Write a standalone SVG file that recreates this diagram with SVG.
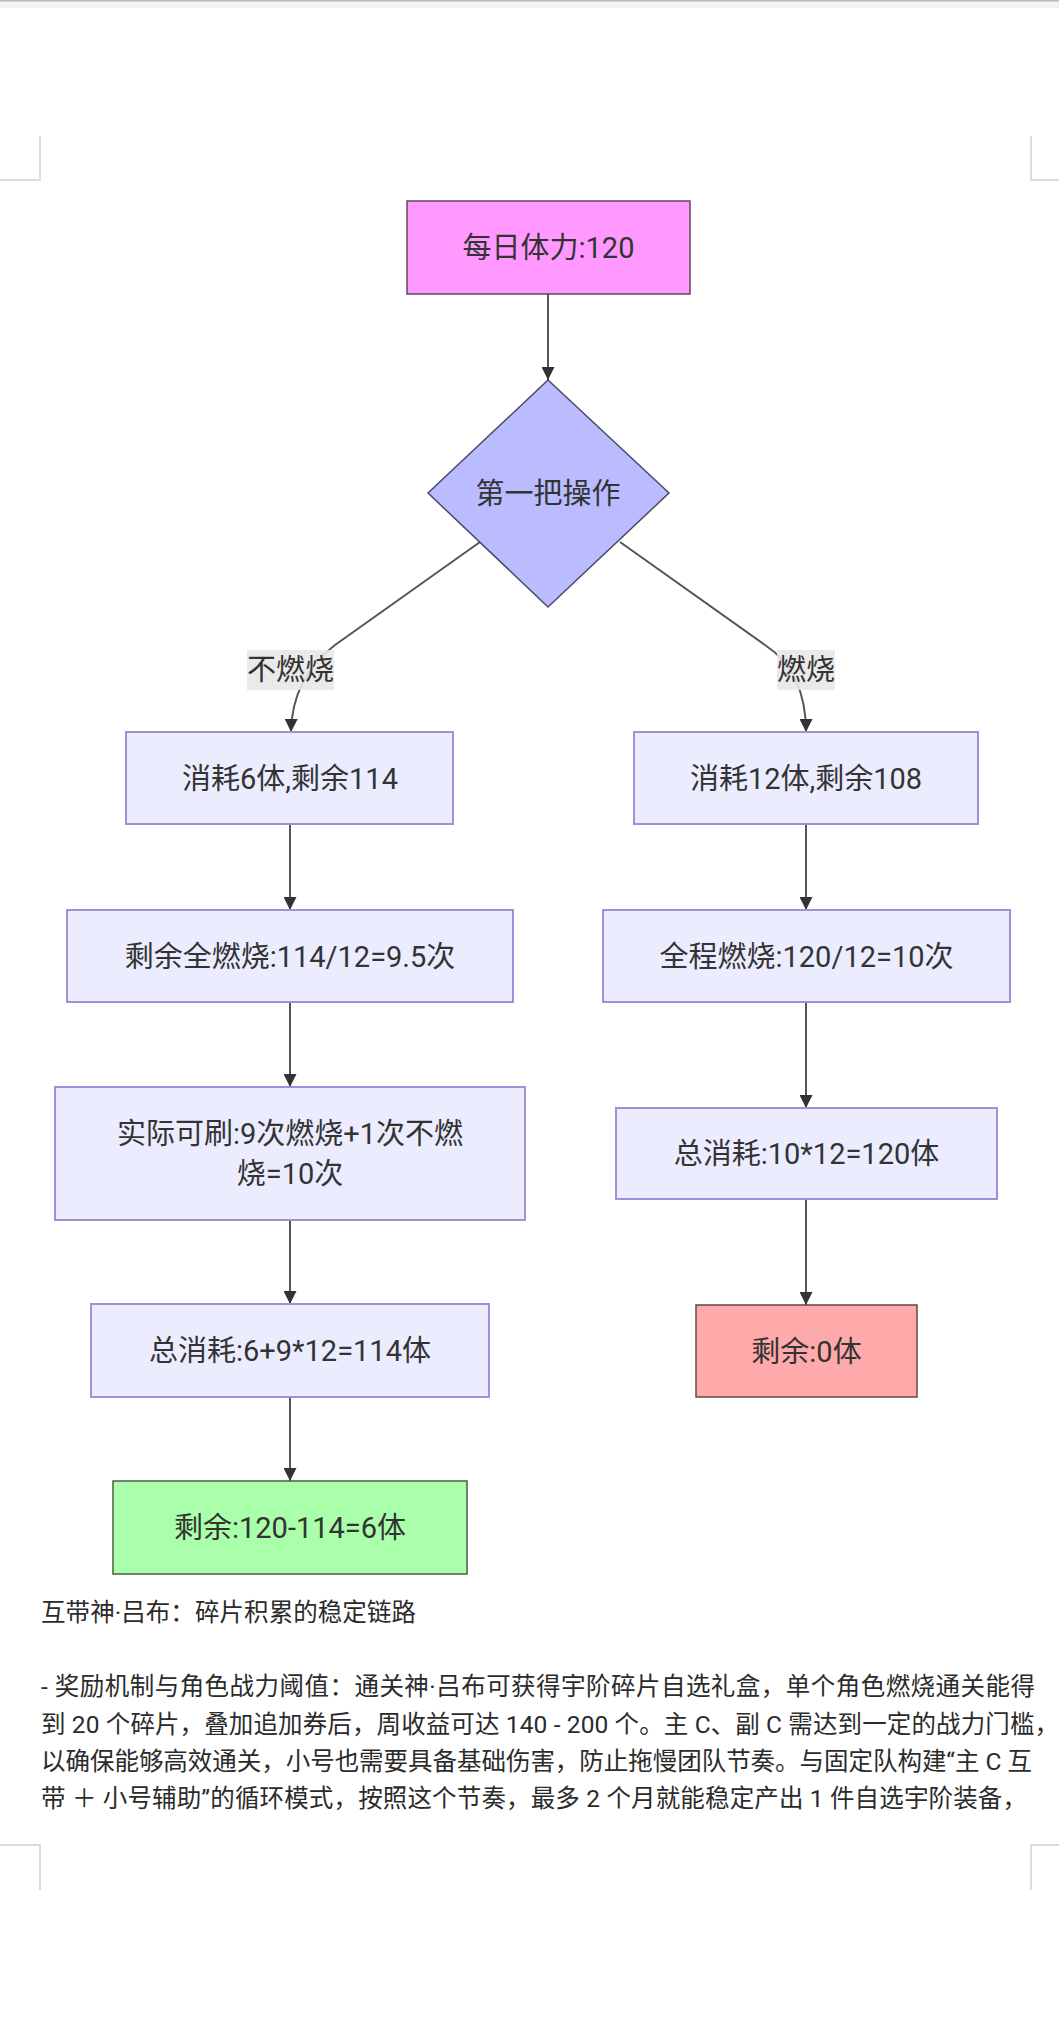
<svg xmlns="http://www.w3.org/2000/svg" width="1059" height="2020" viewBox="0 0 1059 2020">
<defs>
<marker id="arrow" viewBox="0 0 10 10" refX="10" refY="5" markerWidth="13" markerHeight="13" markerUnits="userSpaceOnUse" orient="auto">
<path d="M0,0 L10,5 L0,10 z" fill="#333"/>
</marker>
<style>
.nt{font-family:Roboto,"Noto Sans CJK SC",sans-serif;font-size:29px;fill:#333;text-anchor:middle}
.proc{fill:#ececff;stroke:#a38fd9;stroke-width:2}
.edge{fill:none;stroke:#555;stroke-width:2}
.lbl{fill:#e8e8e8;opacity:0.9}
.para{font-family:Roboto,"Noto Sans CJK SC",sans-serif;font-size:24.5px;fill:#2b2b2b}
.corner{fill:none;stroke:#dcdcdc;stroke-width:2}
</style>
</defs>
<rect x="0" y="0" width="1059" height="2020" fill="#ffffff"/>
<rect x="0" y="0" width="1059" height="8" fill="#f1f1f6"/>
<line x1="0" y1="0.75" x2="1059" y2="0.75" stroke="#b8b8c0" stroke-width="1.5"/>
<polyline class="corner" points="40,136 40,180 0,180"/>
<polyline class="corner" points="1031,136 1031,180 1059,180"/>
<polyline class="corner" points="0,1845 40,1845 40,1890"/>
<polyline class="corner" points="1059,1845 1031,1845 1031,1890"/>

<g id="connectors">
<path class="edge" d="M548,294 L548,380" marker-end="url(#arrow)"/>
<path class="edge" d="M480,542 L335,645 Q292,678 291,732" marker-end="url(#arrow)"/>
<path class="edge" d="M620,542 L765,645 Q806,672 806,732" marker-end="url(#arrow)"/>
<path class="edge" d="M290,824 L290,910" marker-end="url(#arrow)"/>
<path class="edge" d="M290,1002 L290,1087" marker-end="url(#arrow)"/>
<path class="edge" d="M290,1220 L290,1304" marker-end="url(#arrow)"/>
<path class="edge" d="M290,1397 L290,1481" marker-end="url(#arrow)"/>
<path class="edge" d="M806,824 L806,910" marker-end="url(#arrow)"/>
<path class="edge" d="M806,1002 L806,1108" marker-end="url(#arrow)"/>
<path class="edge" d="M806,1199 L806,1305" marker-end="url(#arrow)"/>
<g id="label-noburn">
<rect class="lbl" x="247" y="650" width="87" height="40"/>
<text class="nt" x="290.5" y="680">不燃烧</text>
</g>
<g id="label-burn">
<rect class="lbl" x="777" y="650" width="58" height="40"/>
<text class="nt" x="806" y="680">燃烧</text>
</g>
</g>

<g id="n-start">
<rect x="407" y="201" width="283" height="93" fill="#ff99ff" stroke="#5e4a5e" stroke-width="1.5"/>
<text class="nt" x="548.5" y="258">每日体力:120</text>
</g>
<g id="n-decision">
<polygon points="548,380 669,493 548,607 428,493" fill="#bbbbff" stroke="#4a4a66" stroke-width="1.5"/>
<text class="nt" x="548" y="504">第一把操作</text>
</g>
<g id="n-l1">
<rect class="proc" x="126" y="732" width="327" height="92"/>
<text class="nt" x="290" y="789">消耗6体,剩余114</text>
</g>
<g id="n-r1">
<rect class="proc" x="634" y="732" width="344" height="92"/>
<text class="nt" x="806" y="789">消耗12体,剩余108</text>
</g>
<g id="n-l2">
<rect class="proc" x="67" y="910" width="446" height="92"/>
<text class="nt" x="290" y="967">剩余全燃烧:114/12=9.5次</text>
</g>
<g id="n-r2">
<rect class="proc" x="603" y="910" width="407" height="92"/>
<text class="nt" x="806.5" y="967">全程燃烧:120/12=10次</text>
</g>
<g id="n-l3">
<rect class="proc" x="55" y="1087" width="470" height="133"/>
<text class="nt" x="290" y="1144">实际可刷:9次燃烧+1次不燃</text>
<text class="nt" x="290" y="1184">烧=10次</text>
</g>
<g id="n-r3">
<rect class="proc" x="616" y="1108" width="381" height="91"/>
<text class="nt" x="806.5" y="1164">总消耗:10*12=120体</text>
</g>
<g id="n-l4">
<rect class="proc" x="91" y="1304" width="398" height="93"/>
<text class="nt" x="290" y="1361">总消耗:6+9*12=114体</text>
</g>
<g id="n-r4">
<rect x="696" y="1305" width="221" height="92" fill="#ffaaaa" stroke="#5e4a4a" stroke-width="1.5"/>
<text class="nt" x="806.5" y="1362">剩余:0体</text>
</g>
<g id="n-l5">
<rect x="113" y="1481" width="354" height="93" fill="#aaffaa" stroke="#4a5e4a" stroke-width="1.5"/>
<text class="nt" x="290" y="1538">剩余:120-114=6体</text>
</g>

<g id="paragraph">
<text class="para" x="41" y="1621" textLength="375" lengthAdjust="spacing">互带神·吕布：碎片积累的稳定链路</text>
<text class="para" x="41" y="1695" textLength="994" lengthAdjust="spacing">- 奖励机制与角色战力阈值：通关神·吕布可获得宇阶碎片自选礼盒，单个角色燃烧通关能得</text>
<text class="para" x="41" y="1733" textLength="1018" lengthAdjust="spacing">到 20 个碎片，叠加追加券后，周收益可达 140 - 200 个。主 C、副 C 需达到一定的战力门槛，</text>
<text class="para" x="41" y="1770" textLength="991" lengthAdjust="spacing">以确保能够高效通关，小号也需要具备基础伤害，防止拖慢团队节奏。与固定队构建“主 C 互</text>
<text class="para" x="41" y="1807" textLength="986" lengthAdjust="spacing">带 ＋ 小号辅助”的循环模式，按照这个节奏，最多 2 个月就能稳定产出 1 件自选宇阶装备，</text>
</g>
</svg>
